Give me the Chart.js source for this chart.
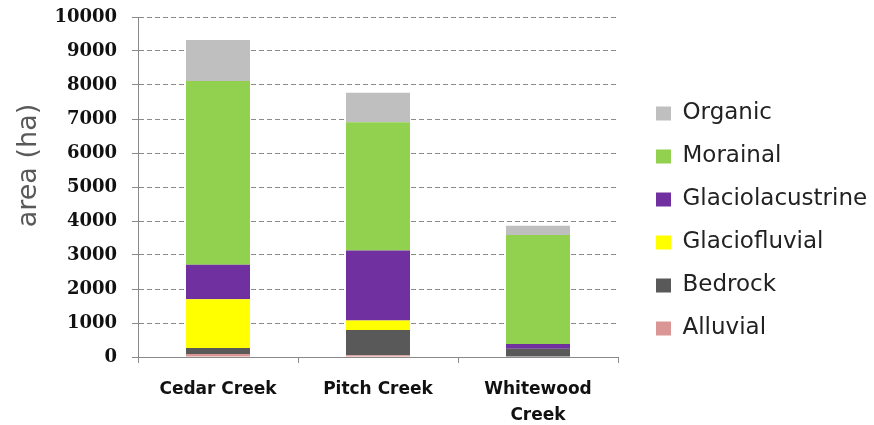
<!DOCTYPE html>
<html>
<head>
<meta charset="utf-8">
<title>Surficial geology by watershed</title>
<script src="https://cdn.jsdelivr.net/npm/chart.js@4.4.1/dist/chart.umd.min.js"></script>
<style>
    html, body { margin: 0; padding: 0; background: #fff; }
    #chart { display: block; }
</style>
</head>
<body>
<canvas id="chart" width="874" height="425"></canvas>
<script>
// Watersheds
const creeks = ['Cedar Creek', 'Pitch Creek', ['Whitewood', 'Creek']];

// Area of each surficial unit, in ha
const alluvial = [90, 50, 15];
const bedrock = [175, 745, 230];
const glaciofluvial = [1430, 275, 0];
const glaciolacustrine = [1020, 2060, 140];
const morainal = [5400, 3775, 3200];
const organic = [1210, 870, 275];

const yTicks = [0, 1000, 2000, 3000, 4000, 5000, 6000, 7000, 8000, 9000, 10000];

// stacked from the bottom up
const units = [
    { label: 'Alluvial', data: alluvial, color: '#da9694' },
    { label: 'Bedrock', data: bedrock, color: '#595959' },
    { label: 'Glaciofluvial', data: glaciofluvial, color: '#ffff00' },
    { label: 'Glaciolacustrine', data: glaciolacustrine, color: '#7030a0' },
    { label: 'Morainal', data: morainal, color: '#92d050' },
    { label: 'Organic', data: organic, color: '#bfbfbf' }
];

const axisGrey = '#8a8a8a';

new Chart(document.getElementById('chart'), {
    type: 'bar',
    data: {
        labels: creeks,
        datasets: units.map(u => ({
            label: u.label,
            data: u.data,
            backgroundColor: u.color,
            borderWidth: 0,
            yAxisID: 'y',
            categoryPercentage: 1,
            barPercentage: 0.4
        }))
    },
    options: {
        responsive: false,
        animation: false,
        layout: { padding: { top: 17, right: 0, left: 0, bottom: 0 } },
        plugins: {
            tooltip: { enabled: false },
            legend: {
                position: 'right',
                align: 'center',
                reverse: true,
                maxWidth: 238,
                labels: {
                    boxWidth: 15,
                    boxHeight: 14,
                    padding: 20,
                    color: '#222',
                    font: { family: 'DejaVu Sans', size: 23 }
                }
            }
        },
        scales: {
            x: {
                stacked: true,
                grid: { display: true, drawOnChartArea: false, tickLength: 6, color: axisGrey },
                border: { color: axisGrey },
                ticks: {
                    color: '#111',
                    padding: 14,
                    maxRotation: 0,
                    font: { family: 'DejaVu Sans', size: 17, weight: 'bold', lineHeight: 1.5 }
                },
                afterFit(scale) { scale.height = 68; }
            },
            y: {
                stacked: true,
                min: 0,
                max: 10000,
                afterBuildTicks(scale) { scale.ticks = yTicks.map(v => ({ value: v })); },
                grid: { color: axisGrey, tickLength: 6 },
                border: { color: axisGrey, dash: [5, 3] },
                ticks: {
                    color: '#111',
                    padding: 15,
                    callback: v => String(v),
                    font: { family: 'DejaVu Serif', size: 18, weight: 'bold' }
                },
                title: {
                    display: true,
                    text: '     area (ha)',
                    color: '#595959',
                    padding: { top: 13, bottom: 0 },
                    font: { family: 'DejaVu Sans', size: 27 }
                },
                afterFit(scale) {
                    scale.width = 138;
                    // tick padding would otherwise push the plot top down
                    scale.paddingTop = 0;
                    scale.paddingBottom = 0;
                }
            },
            // empty spacer between the plot and the legend
            gap: {
                type: 'linear',
                position: 'right',
                display: true,
                grid: { display: false },
                border: { display: false },
                ticks: { display: false },
                afterFit(scale) { scale.width = 18; }
            }
        }
    }
});
</script>
</body>
</html>
